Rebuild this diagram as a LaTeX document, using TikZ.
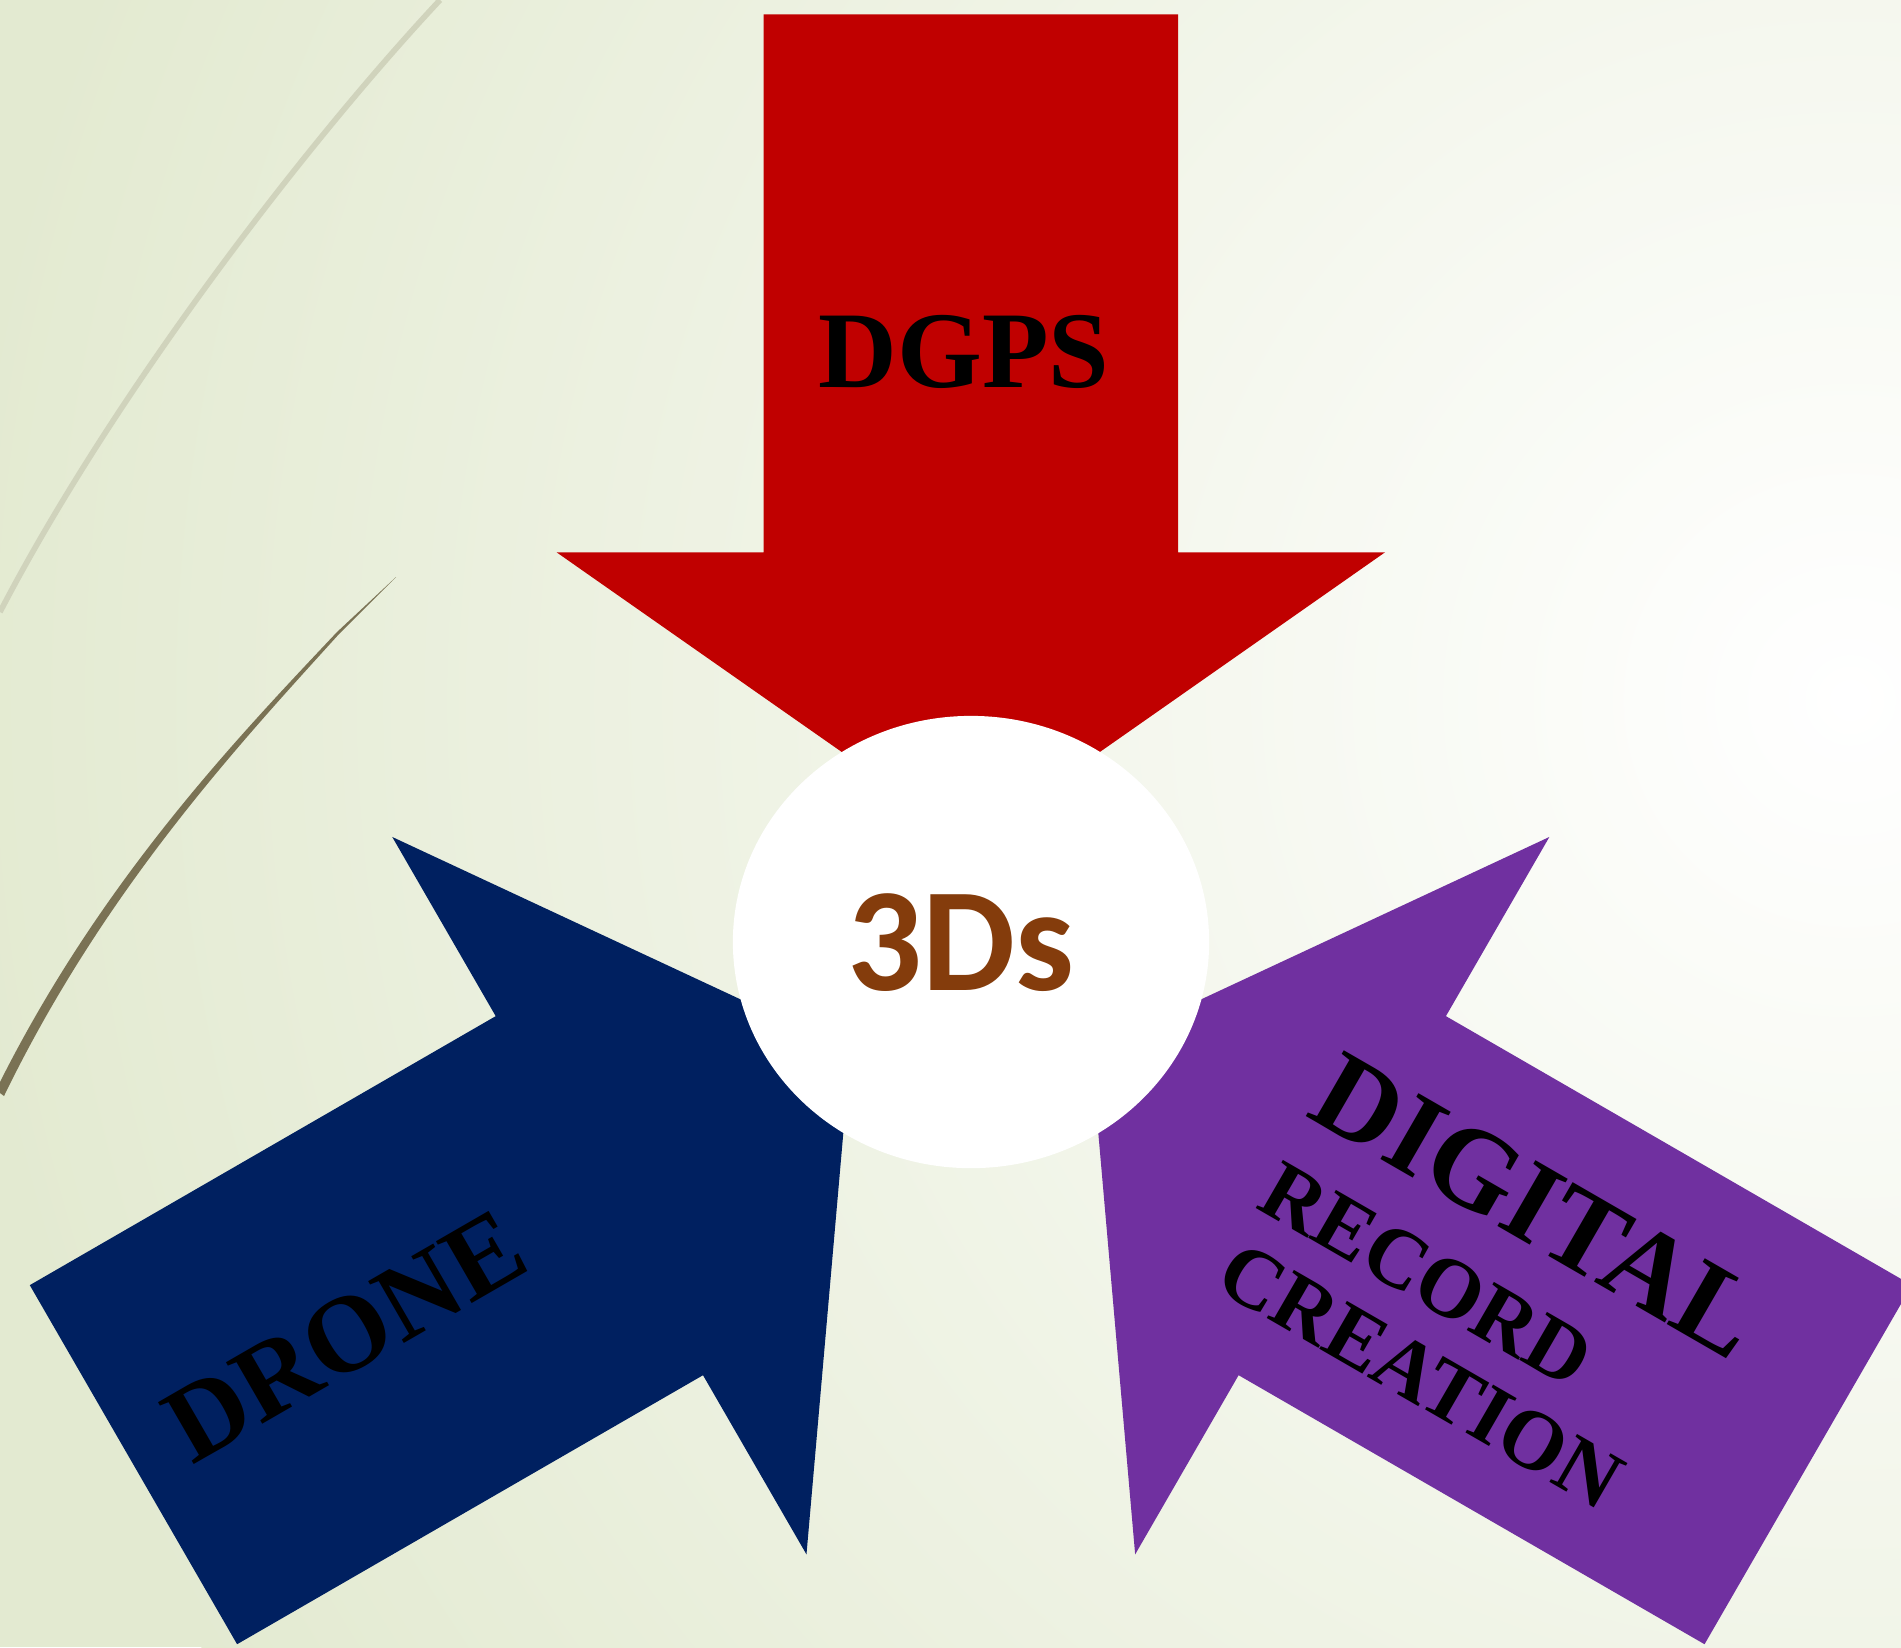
\documentclass[tikz,border=0pt]{standalone}
\usepackage{fontspec}
\setmainfont{Liberation Serif}
\newfontfamily\calibrifont{Carlito}
\usetikzlibrary{shapes.geometric}
\definecolor{dgpsred}{HTML}{C00000}
\definecolor{dronenavy}{HTML}{002060}
\definecolor{recordpurple}{HTML}{7030A0}
\definecolor{hubbrown}{HTML}{843C0C}
\definecolor{bggreen}{RGB}{227,234,209}
\definecolor{curvelight}{RGB}{208,211,188}
\definecolor{curvedark}{RGB}{122,114,84}
\begin{document}
\begin{tikzpicture}[x=0.01cm,y=-0.01cm]
	\tikzstyle{arrow text}=[font=\bfseries\fontsize{31}{35}\selectfont,text=black,inner sep=0]
	\tikzstyle{record text}=[font=\bfseries\fontsize{24}{28}\selectfont,text=black,inner sep=0,anchor=base west,rotate=-30]
	\useasboundingbox (0,0) rectangle (1901,1647);
	\clip (0,0) rectangle (1901,1647);
	% background
	\fill[bggreen] (0,0) rectangle (1901,1647);
	\shade[inner color=white,outer color=bggreen] (1850,700) circle [radius=19cm];
	\draw[curvelight,line width=1.6pt] (440,0) .. controls (300,150) and (110,400) .. (0,612);
	\fill[curvedark] (396,577) -- (337,632) .. controls (240,735) and (100,880) .. (-4,1090)
		-- (4,1096) .. controls (106,886) and (244,739) .. (339,634) -- cycle;
	% the three arrows
	\foreach \ang/\col in {0/dgpsred,120/dronenavy,-120/recordpurple}
		\fill[\col,rotate around={\ang:(970.8,981.2)}] (763.5,14.3) -- (1178.1,14.3) -- (1178.1,552.3)
			-- (1385,552.3) -- (970.8,842.3) -- (556.6,552.3) -- (763.5,552.3) -- cycle;
	\node(hub)[ellipse,fill=white,minimum width=4.76cm,minimum height=4.52cm,inner sep=0] at (971,942) {};
	\node(hubtext)[font=\calibrifont\bfseries\fontsize{42}{50}\selectfont,text=hubbrown,inner sep=0] at (961,943) {3Ds};
	\node(dgps)[arrow text] at (964,352) {DGPS};
	\node(drone)[arrow text,rotate=30] at (345,1336) {DRONE};
	\node(digital)[record text,font=\bfseries\fontsize{33}{38}\selectfont] at (1304,1115) {DIGITAL};
	\node(record)[record text] at (1254,1207) {RECORD};
	\node(creation)[record text] at (1212,1287) {CREATION};
\end{tikzpicture}
\end{document}
